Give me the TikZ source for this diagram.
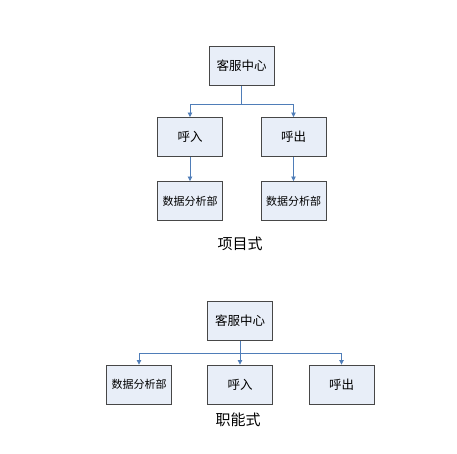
\documentclass[tikz,border=0pt]{standalone}
\usepackage{fontspec}
\newfontfamily\cjk{Noto Sans CJK SC}
\usetikzlibrary{positioning,arrows.meta}
\definecolor{boxfill}{HTML}{E8EEF8}
\definecolor{linkblue}{HTML}{4F7DB8}
\tikzset{
  box/.style={draw=black!72,fill=boxfill,line width=0.9pt,minimum width=65pt,minimum height=39pt,inner sep=0pt,font=\cjk\fontsize{12.5}{14}\selectfont},
  small/.style={font=\cjk\fontsize{11}{13}\selectfont},
  link/.style={draw=linkblue,line width=0.8pt,-{Triangle[width=4.5pt,length=4.5pt]}},
  caption/.style={font=\cjk\fontsize{15}{17}\selectfont}
}
\begin{document}
\begin{tikzpicture}[x=1pt,y=-1pt]
  \useasboundingbox[fill=white] (0,0) rectangle (457,454);
  % project style
  \node[box] (kf) at (241.5,66) {客服中心};
  \node[box] (hr) at (190,137) {呼入};
  \node[box] (hc) at (293.5,137) {呼出};
  \node[box,small] (sj1) at (190,201) {数据分析部};
  \node[box,small] (sj2) at (293.5,201) {数据分析部};
  \draw[link] (kf.south) -- ++(0,18) -| (hr.north);
  \draw[link] (kf.south) -- ++(0,18) -| (hc.north);
  \draw[link] (hr) -- (sj1);
  \draw[link] (hc) -- (sj2);
  \node[caption] (xm) at (240,244) {项目式};
  % functional style
  \node[box] (kf2) at (240,321) {客服中心};
  \node[box,small] (sj3) at (139,384.5) {数据分析部};
  \node[box] (hr2) at (240,384.5) {呼入};
  \node[box] (hc2) at (341.5,384.5) {呼出};
  \draw[link] (kf2.south) -- ++(0,12) -| (sj3.north);
  \draw[link] (kf2.south) -- ++(0,12) -| (hc2.north);
  \draw[link] (kf2) -- (hr2);
  \node[caption] (zn) at (238,420) {职能式};
\end{tikzpicture}
\end{document}
